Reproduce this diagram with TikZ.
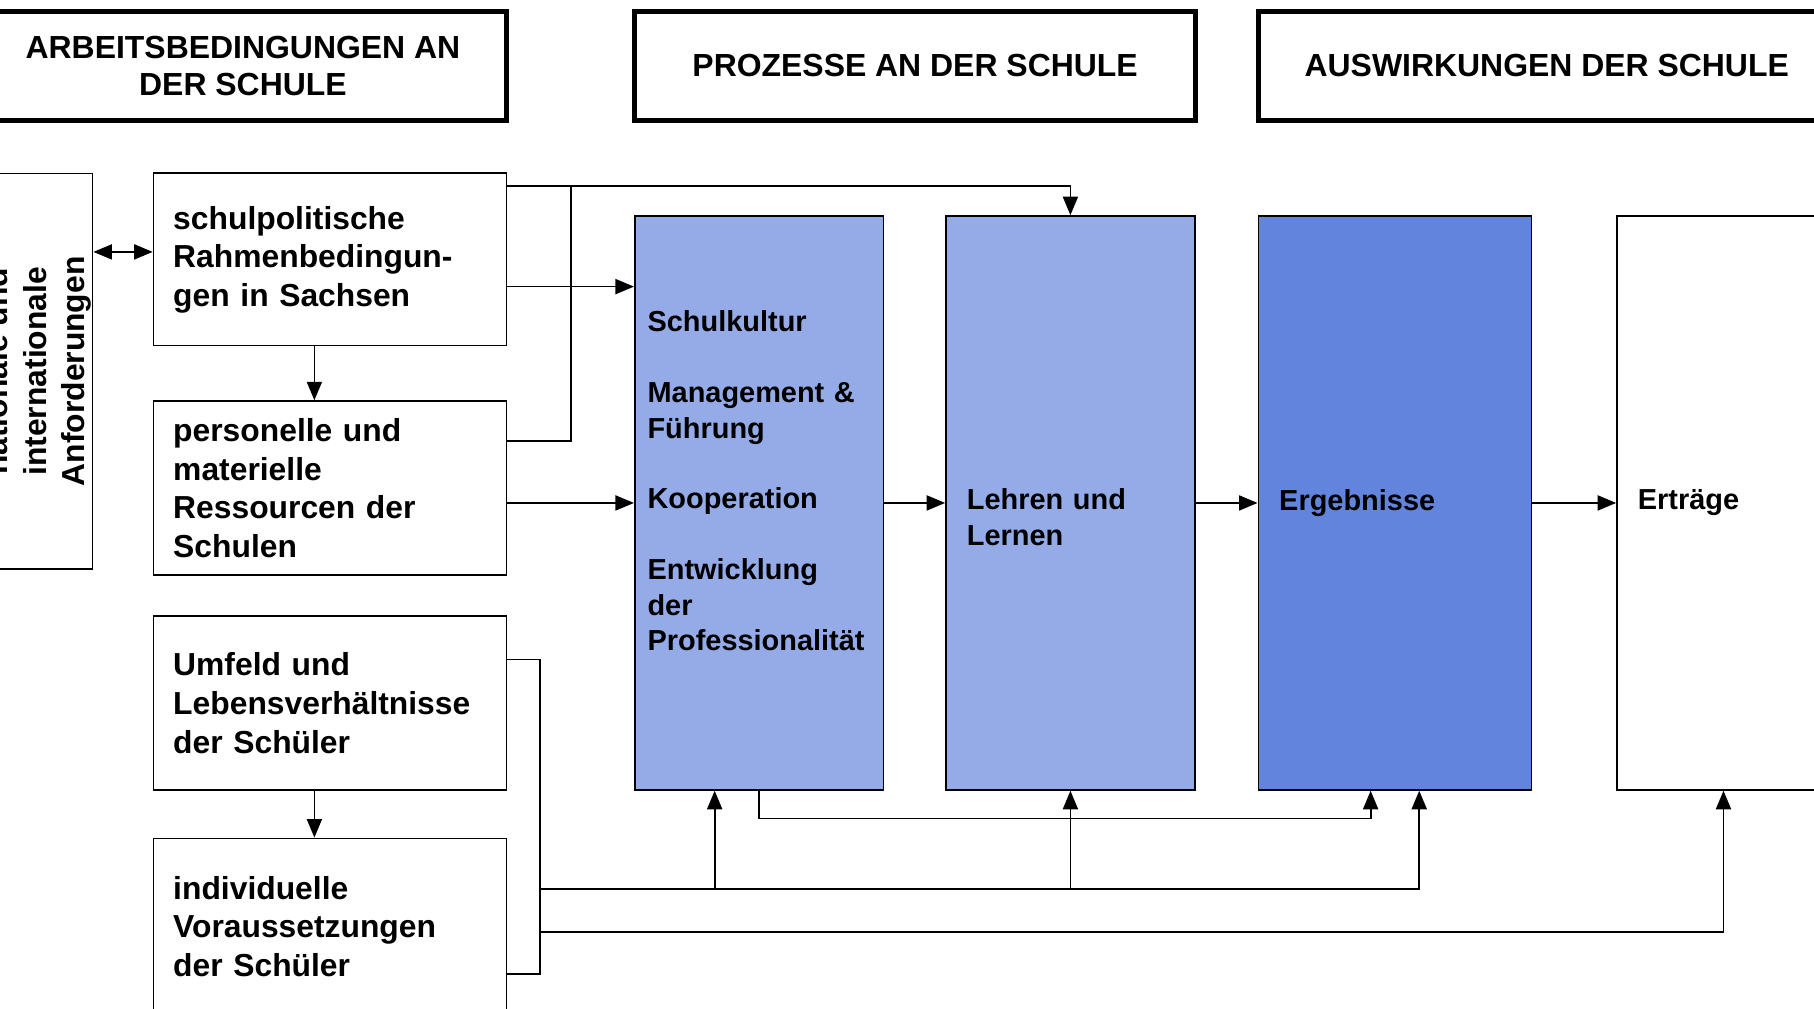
\documentclass[tikz,border=0pt]{standalone}
\usepackage{fontspec}
\setmainfont{Liberation Sans}
\usetikzlibrary{arrows.meta,positioning}
\definecolor{prozessblau}{RGB}{148,171,232}
\definecolor{ergebnisblau}{RGB}{99,132,221}

\begin{document}
\begin{tikzpicture}[
    x=1pt, y=1pt,
    node distance=48pt,
    kopf/.style={
        draw,
        line width=4.5pt,
        align=center,
        inner sep=0pt,
        minimum height=94pt,
        font=\fontsize{27.6}{32}\selectfont\bfseries
    },
    rahmen/.style={
        draw,
        line width=1.5pt,
        align=left,
        inner xsep=17pt,
        inner ysep=0pt,
        text width=271pt,
        font=\fontsize{27.5}{33.3}\selectfont\bfseries
    },
    saeule/.style={
        draw,
        line width=1.5pt,
        align=left,
        inner xsep=18pt,
        inner ysep=0pt,
        minimum height=496pt,
        font=\fontsize{25}{30.6}\selectfont\bfseries
    },
    linie/.style={line width=1.5pt},
    pfeil/.style={line width=1.5pt, -{Triangle[length=16pt,width=13pt]}},
    doppelpfeil/.style={line width=1.5pt, {Triangle[length=16pt,width=13pt]}-{Triangle[length=16pt,width=13pt]}}
]
\useasboundingbox (0,0) rectangle (1568,-872);
\clip (0,0) rectangle (1568,-872);

% Kopfzeile
\node[kopf, minimum width=456pt] (kopfA) at (210,-57) {ARBEITSBEDINGUNGEN AN\\DER SCHULE};
\node[kopf, minimum width=485pt, right=106pt of kopfA] (kopfB) {PROZESSE AN DER SCHULE};
\node[kopf, minimum width=498pt, right=50pt of kopfB] (kopfC) {AUSWIRKUNGEN DER SCHULE};

% Arbeitsbedingungen
\node[draw, line width=1.5pt, rotate=90, align=center, inner sep=0pt,
      minimum width=342pt, minimum height=94pt,
      font=\fontsize{27.5}{33.3}\selectfont\bfseries] (anford) at (33,-321)
      {nationale und\\internationale\\Anforderungen};
\node[rahmen, minimum height=149pt, anchor=north west] (schul) at (132,-149) {schulpolitische\\Rahmenbedingun-\\gen in Sachsen};
\node[rahmen, minimum height=150pt, below=46.5pt of schul] (pers) {personelle und\\materielle\\Ressourcen der\\Schulen};
\node[rahmen, minimum height=150pt, below=34.5pt of pers] (umfeld) {Umfeld und\\Lebensverhältnisse\\der Schüler};
\node[rahmen, minimum height=152pt, below=40.5pt of umfeld] (indiv) {individuelle\\Voraussetzungen\\der Schüler};

% Prozesse und Auswirkungen
\node[saeule, fill=prozessblau, inner xsep=11pt, text width=193pt, text depth=314pt, anchor=north west] (prozesse) at (548,-186)
    {Schulkultur\\[30.6pt]Management \&\\Führung\\[30.6pt]Kooperation\\[30.6pt]Entwicklung\\der\\Professionalität};
\node[saeule, fill=prozessblau, text width=179pt, text depth=6pt, right=52.5pt of prozesse] (lehren) {Lehren und\\Lernen};
\node[saeule, fill=ergebnisblau, text width=200pt, right=53.5pt of lehren] (ergebnisse) {Ergebnisse};
\node[saeule, text width=148pt, right=72.5pt of ergebnisse] (ertraege) {Erträge};

% Verbindungen links
\coordinate (doppel) at ([yshift=6.5pt]schul.west);
\draw[doppelpfeil] (doppel -| anford.south) -- (doppel);
\draw[pfeil] ([xshift=-13.5pt]schul.south) -- ([xshift=-13.5pt]pers.north);
\draw[pfeil] ([xshift=-13.5pt]umfeld.south) -- ([xshift=-13.5pt]indiv.north);

\coordinate (knoten) at ([xshift=55pt,yshift=-12pt]schul.north east);
\draw[pfeil] ([yshift=-12pt]schul.north east) -| (lehren.north);
\draw[linie] ([yshift=-35pt]pers.north east) -| (knoten);
\coordinate (rahmenaus) at ([yshift=-23.5pt]schul.east);
\draw[pfeil] (rahmenaus) -- (rahmenaus -| prozesse.west);
\draw[pfeil] (pers.east |- prozesse.west) -- (prozesse.west);

% Hauptfluss
\draw[pfeil] (prozesse) -- (lehren);
\draw[pfeil] (lehren) -- (ergebnisse);
\draw[pfeil] (ergebnisse) -- (ertraege);

% Rueckmeldungen unten
\draw[pfeil] (prozesse.south) -- ++(0,-24) -| ([xshift=-21pt]ergebnisse.south);

\coordinate (sammel) at ([xshift=28pt,yshift=-38pt]umfeld.north east);
\draw[linie] ([yshift=-38pt]umfeld.north east) -- (sammel) |- ([yshift=-118pt]indiv.north east);
\coordinate (busA) at ([xshift=28pt,yshift=-85pt]umfeld.south east);
\coordinate (busB) at ([xshift=28pt,yshift=-122pt]umfeld.south east);
\coordinate (proz) at ([xshift=-38.5pt]prozesse.south);
\draw[pfeil] (busA) -| ([xshift=21pt]ergebnisse.south);
\draw[pfeil] (proz |- busA) -- (proz);
\draw[pfeil] (lehren.south |- busA) -- (lehren.south);
\draw[pfeil] (busB) -| (ertraege.south);

\end{tikzpicture}
\end{document}
